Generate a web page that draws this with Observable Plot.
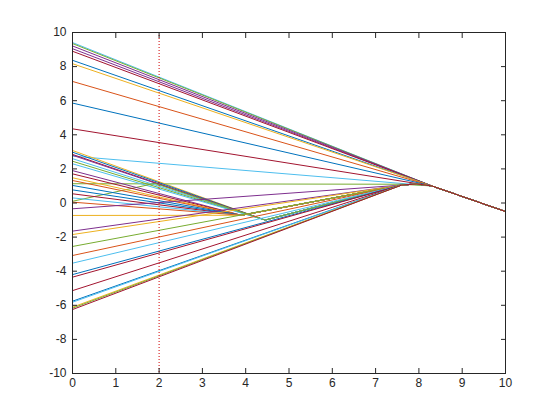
<!DOCTYPE html>
<html>
<head>
<meta charset="utf-8">
<script src="https://cdn.jsdelivr.net/npm/d3@7"></script>
<script src="https://cdn.jsdelivr.net/npm/@observablehq/plot@0.6"></script>
<style>
  html, body { margin: 0; padding: 0; background: white; }
</style>
</head>
<body>
<div id="chart"></div>
<script>
// Tick values
const xTicks = [0, 1, 2, 3, 4, 5, 6, 7, 8, 9, 10];
const yTicks = [-10, -8, -6, -4, -2, 0, 2, 4, 6, 8, 10];
const markerX = [2];

// Shared knot points [x, y]
const upperMeet = [8.3, 1.0];
const lowerMeet = [7.6, 1.05];
const humpPoint = [7.95, 1.12];
const endPoint = [10, -0.5];
const fanMeet = [4.45, -1.0];
const midMeet = [3.9, -0.72];
const fanCross = [1.9, 1.15];
const flatEnd = [7.6, 1.1];

// MATLAB default colour order
const C = {blue: "#0072BD", orange: "#D95319", yellow: "#EDB120", purple: "#7E2F8E",
           green: "#77AC30", cyan: "#4DBEEE", red: "#A2142F"};

// Series: starting value at x = 0 and colour, by group
const directStarts = [9.41, 9.35, 9.21, 9.05, 8.9, 8.37, 8.17, 7.13, 5.86, 4.35, 2.75];
const directColors = ["cyan", "green", "purple", "purple", "red", "blue", "yellow", "orange", "blue", "red", "cyan"];

const flatStarts = [1.13];
const flatColors = ["green"];

const fanStarts = [3.08, 2.98, 2.85, 2.8, 2.6, 2.45, 2.3];
const fanColors = ["yellow", "blue", "red", "purple", "cyan", "green", "cyan"];

const vStarts = [0.1];
const vColors = ["green"];

const midStarts = [1.9, 1.71, 1.48, 1.32, 1.03, 0.77, 0.54, 0.3, 0.05, -0.73];
const midColors = ["purple", "red", "yellow", "orange", "blue", "blue", "red", "cyan", "orange", "yellow"];

const lowStarts = [-0.34, -1.65, -1.85, -2.55, -3.08, -3.53, -4.2, -4.35, -5.14, -5.76, -5.82, -6.11, -6.17, -6.25];
const lowColors = ["purple", "purple", "yellow", "green", "orange", "cyan", "blue", "red", "red", "blue", "cyan", "yellow", "green", "red"];

// Build the polylines table
const rows = [];
let id = 0;
function addGroup(starts, colors, knots) {
  starts.forEach((y0, i) => {
    const pts = [[0, y0], ...knots];
    pts.forEach(([x, y]) => rows.push({id, x, y, color: C[colors[i]]}));
    id++;
  });
}
const tail = [lowerMeet, humpPoint, upperMeet, endPoint];
addGroup(directStarts, directColors, [upperMeet, endPoint]);
addGroup(flatStarts, flatColors, [flatEnd, upperMeet, endPoint]);
addGroup(fanStarts, fanColors, [fanMeet, ...tail]);
addGroup(vStarts, vColors, [fanCross, fanMeet, ...tail]);
addGroup(midStarts, midColors, [midMeet, ...tail]);
addGroup(lowStarts, lowColors, tail);

const axisColor = "#262626";
const fmt = d => String(d);
const blank = () => "";

const chart = Plot.plot({
  width: 560,
  height: 420,
  marginLeft: 72,
  marginRight: 55,
  marginTop: 32,
  marginBottom: 47,
  style: {background: "white", fontFamily: "Liberation Sans, Arial, Helvetica, sans-serif", fontSize: "12px", color: axisColor},
  x: {domain: [0, 10]},
  y: {domain: [-10, 10]},
  color: {type: "identity"},
  marks: [
    Plot.line(rows, {x: "x", y: "y", z: "id", stroke: "color", strokeWidth: 1}),
    Plot.ruleX(markerX, {stroke: "#D00000", strokeWidth: 1, strokeDasharray: "1,2"}),
    Plot.frame({stroke: axisColor, strokeWidth: 1}),
    Plot.axisX({anchor: "bottom", ticks: xTicks, tickSize: 0, tickPadding: 5, tickFormat: fmt, fill: axisColor, label: null}),
    Plot.axisX({anchor: "bottom", ticks: xTicks, tickSize: 5, dy: -5, tickFormat: blank, stroke: axisColor, label: null}),
    Plot.axisX({anchor: "top", ticks: xTicks, tickSize: 5, dy: 5, tickFormat: blank, stroke: axisColor, label: null}),
    Plot.axisY({anchor: "left", ticks: yTicks, tickSize: 0, tickPadding: 6, tickFormat: fmt, fill: axisColor, label: null}),
    Plot.axisY({anchor: "left", ticks: yTicks, tickSize: 5, dx: 5, tickFormat: blank, stroke: axisColor, label: null}),
    Plot.axisY({anchor: "right", ticks: yTicks, tickSize: 5, dx: -5, tickFormat: blank, stroke: axisColor, label: null})
  ]
});
document.getElementById("chart").appendChild(chart);
</script>
</body>
</html>
